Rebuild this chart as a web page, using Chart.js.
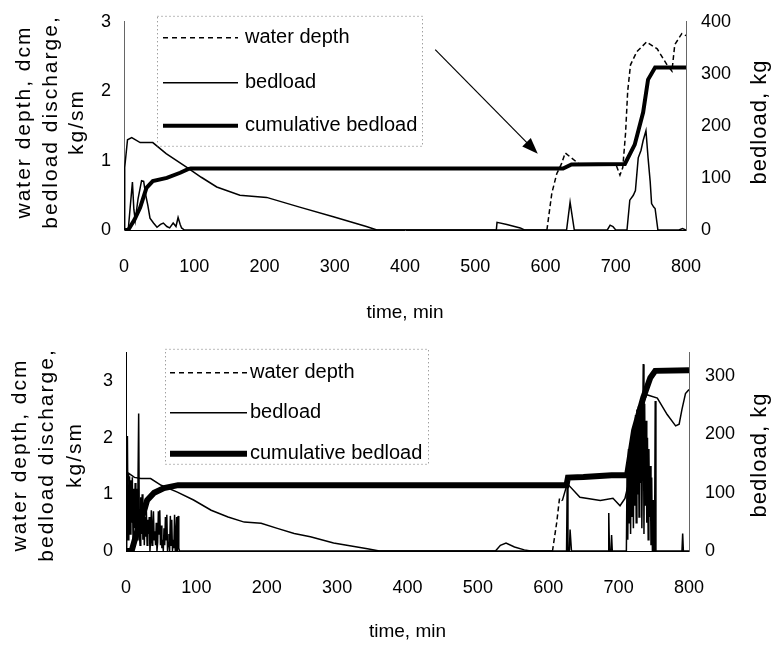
<!DOCTYPE html>
<html>
<head>
<meta charset="utf-8">
<script src="https://cdn.jsdelivr.net/npm/chart.js@4.4.0/dist/chart.umd.min.js"></script>
<style>
  html, body { margin: 0; padding: 0; background: #fff; }
  #wrap { position: relative; width: 779px; height: 647px; }
  canvas { position: absolute; left: 0; }
  #topChart { top: 0; }
  #bottomChart { top: 330px; }
</style>
</head>
<body>
<div id="wrap">
  <canvas id="topChart" width="779" height="330"></canvas>
  <canvas id="bottomChart" width="779" height="317"></canvas>
</div>
<script>
const FONT = "'Liberation Sans', Arial, sans-serif";

const seriesLabels = ['water depth', 'bedload', 'cumulative bedload'];
const timeMax = 800;
const topLeftMax = 3, topRightMax = 400;
const botLeftMax = 3.5, botRightMax = 340;

// top run: water depth (dcm)
const topDepthT = [0, 1, 5, 11, 23, 41, 60, 90, 110, 132, 165, 203, 250, 298, 345, 360, 530, 531, 545, 564, 570, 602, 609, 616, 623, 628, 648, 700, 706, 710, 714, 717, 721, 730, 744, 759, 773, 780, 784, 794, 800];
const topDepthV = [0, 0.9, 1.3, 1.33, 1.26, 1.26, 1.1, 0.9, 0.76, 0.62, 0.5, 0.47, 0.33, 0.19, 0.05, 0, 0, 0.11, 0.08, 0.03, 0, 0, 0.53, 0.81, 0.96, 1.11, 0.95, 0.95, 0.79, 0.9, 1.4, 2.0, 2.38, 2.57, 2.71, 2.61, 2.38, 2.29, 2.67, 2.83, 2.8];
// top run: bedload discharge (kg/sm)
const topBedT = [0, 6, 9, 12, 14, 16, 20, 25, 28, 31, 34, 37, 42, 47, 52, 56, 61, 65, 70, 74, 77, 80, 82, 86, 630, 635, 641, 688, 692, 696, 700, 716, 720, 725, 728, 732, 736, 739, 743, 746, 749, 751, 754, 756, 760, 790, 795, 800];
const topBedV = [0, 0, 0.35, 0.69, 0.3, 0.14, 0.45, 0.71, 0.7, 0.5, 0.35, 0.17, 0.1, 0.04, 0.08, 0.1, 0.05, 0.03, 0.1, 0.05, 0.18, 0.08, 0.03, 0, 0, 0.4, 0, 0, 0.07, 0.05, 0, 0, 0.43, 0.5, 0.57, 1.04, 1.15, 1.29, 1.43, 1.04, 0.7, 0.38, 0.33, 0.31, 0, 0, 0.02, 0];
// top run: cumulative bedload (kg)
const topCumT = [0, 6, 15, 23, 32, 41, 61, 80, 91, 95, 625, 637, 713, 727, 739, 746, 756, 800];
const topCumV = [0, 0, 20, 43, 81, 94, 100, 110, 117, 118, 118, 126, 127, 164, 226, 289, 312, 312];

// bottom run: water depth (dcm)
const botDepthT = [0, 2, 4, 12, 21, 35, 50, 73, 96, 121, 145, 168, 192, 215, 239, 262, 295, 343, 360, 525, 532, 540, 552, 566, 575, 606, 612, 616, 620, 627, 645, 674, 692, 702, 709, 716, 722, 732, 740, 755, 769, 781, 786, 790, 795, 800];
const botDepthV = [0, 1.1, 1.37, 1.3, 1.28, 1.28, 1.16, 1.04, 0.9, 0.72, 0.6, 0.51, 0.49, 0.4, 0.31, 0.25, 0.14, 0.04, 0, 0, 0.1, 0.14, 0.07, 0.02, 0, 0, 0.5, 0.93, 0.89, 1.19, 0.95, 0.89, 0.93, 0.8, 0.93, 1.3, 1.77, 2.52, 2.76, 2.7, 2.41, 2.21, 2.24, 2.5, 2.78, 2.85];
// bottom run: bedload discharge (kg/sm)
const botBedT = [0, 1, 2, 3, 4, 5, 6, 7, 8, 9, 10, 11, 12, 13, 14, 15, 16, 17, 18, 19, 20, 21, 22, 23, 24, 25, 26, 27, 28, 29, 30, 31, 32, 33, 34, 35, 36, 37, 38, 39, 40, 41, 42, 43, 44, 45, 46, 47, 48, 49, 50, 51, 52, 53, 54, 55, 56, 57, 58, 59, 60, 61, 62, 63, 64, 65, 66, 67, 68, 69, 70, 71, 72, 73, 74, 75, 76,
  626, 627, 628, 630, 631, 633, 685, 686, 687, 689, 690, 691, 711,
  712, 713, 714, 715, 716, 717, 718, 719, 720, 721, 722, 723, 724, 725, 726, 727, 728, 729, 730, 731, 732, 733, 734, 735, 736, 737, 738, 739, 740, 741, 742, 743, 744, 745, 746, 747, 748, 749, 750, 751, 752, 753,
  790, 791, 792, 800];
const botBedV = [0, 1.2, 2.03, 0.2, 0.9, 1.32, 0.3, 1.25, 0.5, 1.3, 0.2, 1.1, 0.4, 1.2, 0.3, 1.1, 0.2, 1.15, 2.43, 0.3, 0.1, 0.95, 0.3, 1.0, 0.2, 0.85, 0.1, 0.6, 0.25, 0.7, 0.1, 0.55, 0.3, 0.6, 0, 0.2, 0.72, 0.1, 0.4, 0.7, 0.2, 0.35, 0.1, 0.5, 0, 0.15, 0.7, 0.3, 0.72, 0.1, 0.45, 0.05, 0.2, 0, 0.4, 0.1, 0.6, 0.2, 0.64, 0, 0.15, 0.3, 0, 0.62, 0.1, 0.55, 0, 0.2, 0.05, 0.64, 0, 0.3, 0.6, 0, 0.62, 0.05, 0,
  0, 1.3, 0, 0, 0.38, 0, 0, 0.67, 0, 0, 0.28, 0, 0,
  1.4, 0.2, 1.8, 0.5, 1.6, 0.3, 1.9, 0.6, 2.0, 0.4, 2.2, 0.8, 2.4, 0.5, 2.5, 1.0, 2.55, 0.6, 2.5, 1.2, 2.6, 0.4, 2.0, 3.3, 0.3, 2.6, 0.8, 2.3, 0.5, 2.0, 0.2, 1.8, 0.6, 1.5, 0.1, 1.3, 0, 0.9, 0, 0, 2.65, 0,
  0, 0.31, 0, 0];
// bottom run: cumulative bedload (kg)
const botCumT = [0, 8, 15, 22, 26, 30, 40, 54, 74, 626, 628, 650, 690, 712, 722, 735, 745, 752, 800];
const botCumV = [0, 0, 30, 55, 70, 87, 100, 108, 113, 113, 126, 127, 130, 130, 207, 263, 297, 309, 310];

// annotation arrow on the top run (data coordinates)
const arrowFrom = [443, 2.6];
const arrowTo = [589, 1.1];

function pairs(t, v) {
  return t.map((x, i) => ({ x: x, y: v[i] }));
}

Chart.defaults.font.family = FONT;
Chart.defaults.color = '#000';

function extrasPlugin(cfg) {
  return {
    id: 'extras',
    afterDatasetsDraw(chart) {
      const ctx = chart.ctx, a = chart.chartArea;
      ctx.save();
      // legend box
      const lg = cfg.legend;
      const bx = a.left + lg.dx, by = a.top + lg.dy;
      ctx.strokeStyle = '#777';
      ctx.lineWidth = 1;
      ctx.setLineDash([1, 3]);
      ctx.strokeRect(bx + 0.5, by + 0.5, lg.w, lg.h);
      chart.data.datasets.forEach((ds, i) => {
        const yy = by + lg.rows[i];
        ctx.strokeStyle = '#000';
        ctx.lineWidth = ds.borderWidth;
        ctx.setLineDash(ds.legendDash || []);
        ctx.beginPath();
        ctx.moveTo(bx + lg.sx0, yy);
        ctx.lineTo(bx + lg.sx1, yy);
        ctx.stroke();
        ctx.setLineDash([]);
        ctx.fillStyle = '#000';
        ctx.font = '20px ' + FONT;
        ctx.textAlign = 'left';
        ctx.textBaseline = 'middle';
        ctx.fillText(ds.label, bx + lg.tx, yy);
      });
      // arrow
      if (cfg.arrow) {
        const xs = chart.scales.x, ys = chart.scales.y;
        const x0 = xs.getPixelForValue(cfg.arrow[0][0]), y0 = ys.getPixelForValue(cfg.arrow[0][1]);
        const x1 = xs.getPixelForValue(cfg.arrow[1][0]), y1 = ys.getPixelForValue(cfg.arrow[1][1]);
        const ang = Math.atan2(y1 - y0, x1 - x0);
        ctx.strokeStyle = '#000';
        ctx.lineWidth = 1.2;
        ctx.beginPath();
        ctx.moveTo(x0, y0);
        ctx.lineTo(x1 - 12 * Math.cos(ang), y1 - 12 * Math.sin(ang));
        ctx.stroke();
        ctx.beginPath();
        ctx.moveTo(x1, y1);
        ctx.lineTo(x1 - 16 * Math.cos(ang) + 6 * Math.sin(ang), y1 - 16 * Math.sin(ang) - 6 * Math.cos(ang));
        ctx.lineTo(x1 - 16 * Math.cos(ang) - 6 * Math.sin(ang), y1 - 16 * Math.sin(ang) + 6 * Math.cos(ang));
        ctx.closePath();
        ctx.fillStyle = '#000';
        ctx.fill();
      }
      // rotated axis titles, letter-spaced like the scan
      ctx.fillStyle = '#000';
      ctx.textAlign = 'center';
      ctx.textBaseline = 'middle';
      ctx.font = '21px ' + FONT;
      ctx.letterSpacing = '2px';
      cfg.leftTitle.forEach((line, i) => {
        ctx.save();
        ctx.translate(cfg.leftX[i], cfg.titleY);
        ctx.rotate(-Math.PI / 2);
        ctx.fillText(line, 0, 0);
        ctx.restore();
      });
      ctx.font = '22px ' + FONT;
      ctx.letterSpacing = '1px';
      ctx.save();
      ctx.translate(cfg.rightX, cfg.titleY);
      ctx.rotate(-Math.PI / 2);
      ctx.fillText(cfg.rightTitle, 0, 0);
      ctx.restore();
      ctx.letterSpacing = '0px';
      ctx.restore();
    }
  };
}

function makeChart(id, c) {
  const dashRange = c.dashRange;
  const tickFont = { size: 18 };
  return new Chart(document.getElementById(id), {
    type: 'line',
    data: {
      datasets: [
        {
          label: seriesLabels[0],
          data: pairs(c.depthT, c.depthV),
          yAxisID: 'y',
          borderColor: '#000',
          borderWidth: 1.5,
          legendDash: [5, 4],
          segment: {
            borderDash: s => (s.p0.parsed.x >= dashRange[0] && s.p0.parsed.x < dashRange[1]) ? [5, 3] : undefined
          }
        },
        {
          label: seriesLabels[1],
          data: pairs(c.bedT, c.bedV),
          yAxisID: 'y',
          borderColor: '#000',
          borderWidth: 1.5
        },
        {
          label: seriesLabels[2],
          data: pairs(c.cumT, c.cumV),
          yAxisID: 'y1',
          borderColor: '#000',
          borderWidth: c.cumWidth
        }
      ]
    },
    options: {
      responsive: false,
      animation: false,
      elements: { point: { radius: 0 }, line: { tension: 0, borderCapStyle: 'butt' } },
      layout: { padding: { top: c.padTop, left: 0, right: 0, bottom: 0 } },
      plugins: { legend: { display: false }, tooltip: { enabled: false } },
      scales: {
        x: {
          type: 'linear',
          min: 0,
          max: timeMax,
          afterFit: s => { s.height = c.xHeight; },
          grid: { display: false, drawTicks: false },
          border: { display: true, color: '#000', width: 1 },
          ticks: { stepSize: 100, font: tickFont, padding: c.xPad, maxRotation: 0 },
          title: { display: true, text: 'time, min', font: { size: 19 }, padding: { top: 0, bottom: c.xTitlePad } }
        },
        y: {
          position: 'left',
          min: 0,
          max: c.leftMax,
          afterFit: s => { s.width = c.leftW; },
          grid: { display: false, drawTicks: true, tickLength: 4, tickColor: '#666' },
          border: { display: true, color: c.leftBorder, width: 1, dash: c.leftDash },
          ticks: { stepSize: 1, includeBounds: false, font: tickFont, padding: 9 }
        },
        y1: {
          position: 'right',
          min: 0,
          max: c.rightMax,
          afterFit: s => { s.width = c.rightW; },
          grid: { display: false, drawTicks: true, tickLength: 4, tickColor: '#666' },
          border: { display: true, color: '#666', width: 1, dash: [1, 2] },
          ticks: { stepSize: 100, includeBounds: false, font: tickFont, padding: c.rightPad }
        }
      }
    },
    plugins: [extrasPlugin(c.extras)]
  });
}

makeChart('topChart', {
  depthT: topDepthT, depthV: topDepthV,
  bedT: topBedT, bedV: topBedV,
  cumT: topCumT, cumV: topCumV,
  cumWidth: 4,
  dashRange: [600, 801],
  leftMax: topLeftMax, rightMax: topRightMax,
  padTop: 19, leftW: 124, rightW: 93, xHeight: 100,
  xPad: 26, xTitlePad: 6, rightPad: 11,
  leftBorder: '#666', leftDash: [1, 2],
  extras: {
    legend: { dx: 33, dy: -6, w: 265, h: 130, rows: [22, 67, 110], sx0: 6, sx1: 81, tx: 88 },
    arrow: [arrowFrom, arrowTo],
    leftTitle: ['water depth, dcm', 'bedload discharge,', 'kg/sm'],
    leftX: [24, 51, 77],
    rightTitle: 'bedload, kg',
    rightX: 760,
    titleY: 122
  }
});

makeChart('bottomChart', {
  depthT: botDepthT, depthV: botDepthV,
  bedT: botBedT, bedV: botBedV,
  cumT: botCumT, cumV: botCumV,
  cumWidth: 6,
  dashRange: [600, 620],
  leftMax: botLeftMax, rightMax: botRightMax,
  padTop: 22, leftW: 126, rightW: 90, xHeight: 96,
  xPad: 26, xTitlePad: 4, rightPad: 12,
  leftBorder: '#000', leftDash: [],
  extras: {
    legend: { dx: 39, dy: -4, w: 263, h: 115, rows: [24, 64, 105], sx0: 5, sx1: 82, tx: 85 },
    arrow: null,
    leftTitle: ['water depth, dcm', 'bedload discharge,', 'kg/sm'],
    leftX: [20, 47, 75],
    rightTitle: 'bedload, kg',
    rightX: 760,
    titleY: 125
  }
});
</script>
</body>
</html>
